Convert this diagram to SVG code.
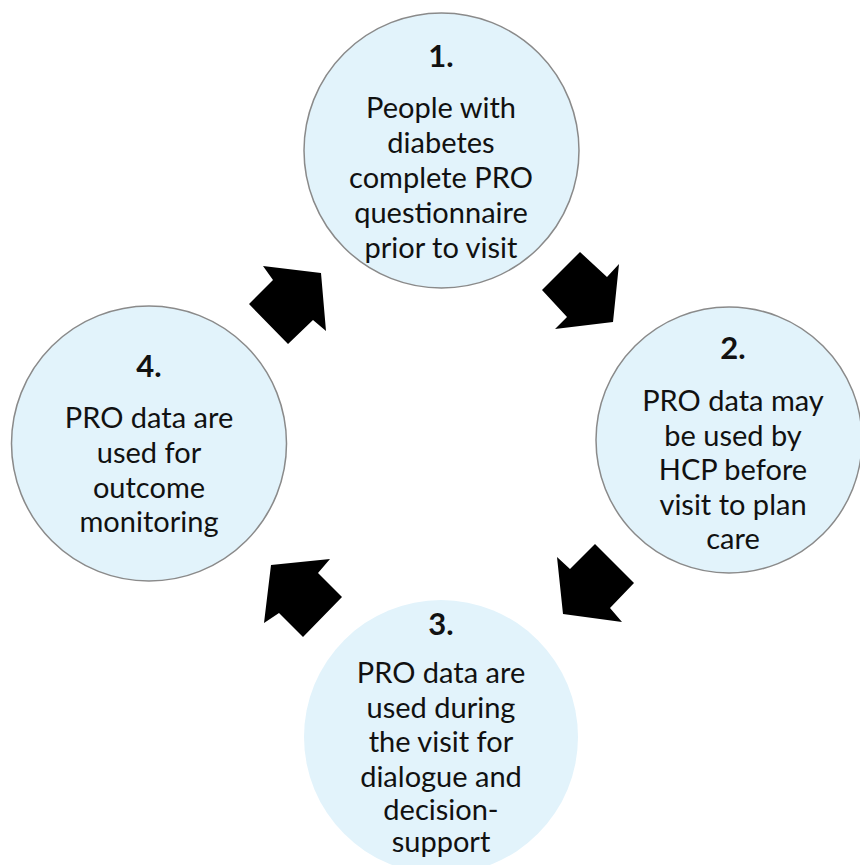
<svg xmlns="http://www.w3.org/2000/svg" width="860" height="865" viewBox="0 0 860 865">
<style>
.node circle{fill:#E2F3FB;stroke:#8A8A8A;stroke-width:1.5}
.node circle.nb{stroke:none}
text{font-family:Lato,"Liberation Sans",sans-serif;font-size:29px;fill:#111;text-anchor:middle}
text.num{font-weight:bold;font-size:31px}
.arrows polygon{fill:#000}
</style>
<rect width="860" height="865" fill="#fff"/>
<g id="node1" class="node">
<circle cx="441.5" cy="150.5" r="137.5"/>
<text class="num" x="441" y="67">1.</text>
<text x="441" y="118">People with</text>
<text x="441" y="153">diabetes</text>
<text x="441" y="188">complete PRO</text>
<text x="441" y="223">questionnaire</text>
<text x="441" y="258">prior to visit</text>
</g>
<g id="node2" class="node">
<circle cx="729" cy="440" r="133"/>
<text class="num" x="733" y="359">2.</text>
<text x="733" y="411">PRO data may</text>
<text x="733" y="446">be used by</text>
<text x="733" y="480">HCP before</text>
<text x="733" y="515">visit to plan</text>
<text x="733" y="549">care</text>
</g>
<g id="node3" class="node">
<circle class="nb" cx="441" cy="737" r="137"/>
<text class="num" x="441" y="635">3.</text>
<text x="441" y="683">PRO data are</text>
<text x="441" y="718">used during</text>
<text x="441" y="752">the visit for</text>
<text x="441" y="787">dialogue and</text>
<text x="441" y="820">decision-</text>
<text x="441" y="852">support</text>
</g>
<g id="node4" class="node">
<circle cx="149" cy="443.5" r="137.5"/>
<text class="num" x="149" y="377">4.</text>
<text x="149" y="428">PRO data are</text>
<text x="149" y="463">used for</text>
<text x="149" y="498">outcome</text>
<text x="149" y="532">monitoring</text>
</g>
<g id="connectors" class="arrows">
<polygon points="542,290 580,252 607,277 619,264 613,322 555,329 567,317"/>
<polygon points="595,544 634,583 610,608 622,622 563,614 557,557 570,569"/>
<polygon points="330,559 318,573 342,597 303,637 279,613 264,623 271,565"/>
<polygon points="263,266 321,273 326,331 313,320 288,344 249,304 273,280"/>
</g>
</svg>
